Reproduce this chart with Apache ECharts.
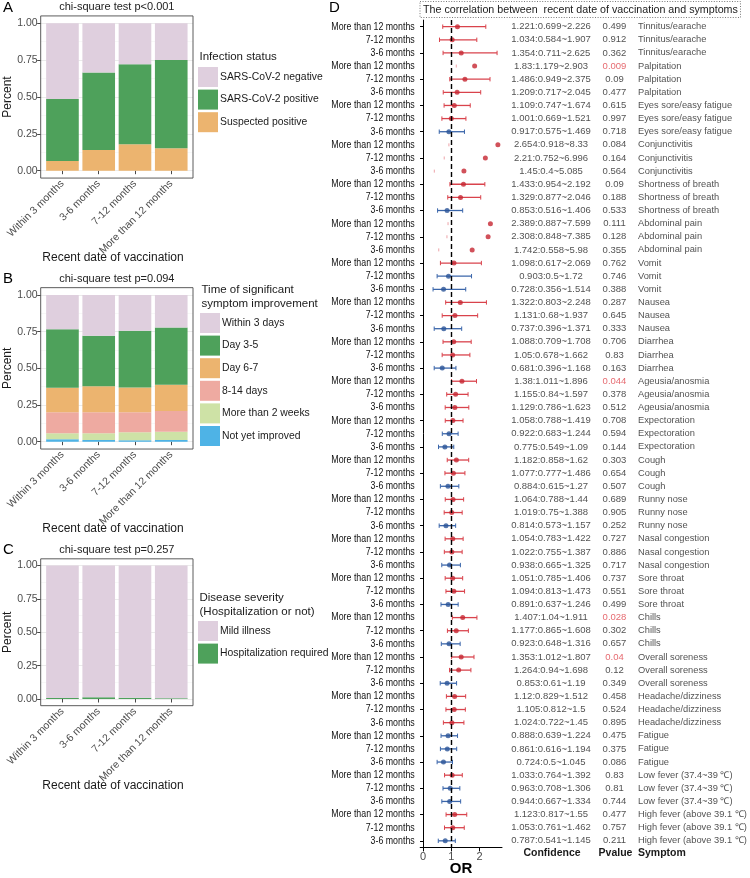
<!DOCTYPE html>
<html><head><meta charset="utf-8">
<script src="https://cdn.jsdelivr.net/npm/echarts@6/dist/echarts.min.js"></script>
<style>html,body{margin:0;padding:0;background:#fff}#c{width:750px;height:878px}</style>
</head><body><div id="c"></div>
<script>
// ---------------- data ----------------
const vaccCats = ['Within 3 months','3-6 months','7-12 months','More than 12 months'];
const pctTicks = [0, 0.25, 0.5, 0.75, 1];
// Panel A: infection status
const infNegative  = [0.514, 0.333, 0.278, 0.249];
const infPositive  = [0.420, 0.527, 0.543, 0.599];
const infSuspected = [0.066, 0.140, 0.179, 0.152];
// Panel B: time of significant symptom improvement
const impWithin3   = [0.233, 0.278, 0.243, 0.222];
const impDay35     = [0.400, 0.344, 0.387, 0.390];
const impDay67     = [0.167, 0.178, 0.170, 0.178];
const imp814       = [0.142, 0.142, 0.135, 0.142];
const impOver2w    = [0.042, 0.046, 0.055, 0.056];
const impNotYet    = [0.016, 0.012, 0.010, 0.012];
// Panel C: disease severity
const sevMild = [0.993, 0.987, 0.990, 0.994];
const sevHosp = [0.007, 0.013, 0.010, 0.006];
// Panel D: forest plot
const groupNames = ['More than 12 months','7-12 months','3-6 months'];
const symptomNames = ['Tinnitus/earache','Palpitation','Eyes sore/easy fatigue','Conjunctivitis','Shortness of breath','Abdominal pain','Vomit','Nausea','Diarrhea','Ageusia/anosmia','Expectoration','Cough','Runny nose','Nasal congestion','Sore throat','Chills','Overall soreness','Headache/dizziness','Fatigue','Low fever (37.4~39 \u2103)','High fever (above 39.1 \u2103)'];
const orValue = [1.221,1.034,1.354, 1.83,1.486,1.209, 1.109,1.001,0.917, 2.654,2.21,1.45, 1.433,1.329,0.853, 2.389,2.308,1.742, 1.098,0.903,0.728, 1.322,1.131,0.737, 1.088,1.05,0.681, 1.38,1.155,1.129, 1.058,0.922,0.775, 1.182,1.077,0.884, 1.064,1.019,0.814, 1.054,1.022,0.938, 1.051,1.094,0.891, 1.407,1.177,0.923, 1.353,1.264,0.853, 1.12,1.105,1.024, 0.888,0.861,0.724, 1.033,0.963,0.944, 1.123,1.053,0.787];
const orLower = [0.699,0.584,0.711, 1.179,0.949,0.717, 0.747,0.669,0.575, 0.918,0.752,0.4, 0.954,0.877,0.516, 0.887,0.848,0.558, 0.617,0.5,0.356, 0.803,0.68,0.396, 0.709,0.678,0.396, 1.011,0.84,0.786, 0.788,0.683,0.549, 0.858,0.777,0.615, 0.788,0.75,0.573, 0.783,0.755,0.665, 0.785,0.813,0.637, 1.04,0.865,0.648, 1.012,0.94,0.61, 0.829,0.812,0.722, 0.639,0.616,0.5, 0.764,0.708,0.667, 0.817,0.761,0.541];
const orUpper = [2.226,1.907,2.625, 2.903,2.375,2.045, 1.674,1.521,1.469, 8.33,6.996,5.085, 2.192,2.046,1.406, 7.599,7.385,5.98, 2.069,1.72,1.514, 2.248,1.937,1.371, 1.708,1.662,1.168, 1.896,1.597,1.623, 1.419,1.244,1.09, 1.62,1.486,1.27, 1.44,1.388,1.157, 1.422,1.387,1.325, 1.406,1.473,1.246, 1.911,1.608,1.316, 1.807,1.698,1.19, 1.512,1.5,1.45, 1.224,1.194,1.045, 1.392,1.306,1.334, 1.55,1.462,1.145];
const orP = [0.499,0.912,0.362, 0.009,0.09,0.477, 0.615,0.997,0.718, 0.084,0.164,0.564, 0.09,0.188,0.533, 0.111,0.128,0.355, 0.762,0.746,0.388, 0.287,0.645,0.333, 0.706,0.83,0.163, 0.044,0.378,0.512, 0.708,0.594,0.144, 0.303,0.654,0.507, 0.689,0.905,0.252, 0.727,0.886,0.717, 0.737,0.551,0.499, 0.028,0.302,0.657, 0.04,0.12,0.349, 0.458,0.524,0.895, 0.475,0.375,0.086, 0.83,0.81,0.744, 0.477,0.757,0.211];
const orTicks = [0, 1, 2];

// ---------------- style ----------------
const FONT = "'Liberation Sans', Arial, Helvetica, sans-serif";
const COL = {lav:'#DFCFDE', green:'#4EA15B', orange:'#ECB46F', pink:'#EEAAA1', lgreen:'#CEE2A6', blue:'#4EB3E6'};
const RED_LINE='#D9434C', RED_DOT='#C52631', BLUE_LINE='#3B66AA', BLUE_DOT='#2A5497';

const grids=[], xAxes=[], yAxes=[], series=[], legends=[], graphics=[];
function addGrid(g){ grids.push(Object.assign({outerBoundsMode:'none', containLabel:false}, g)); return grids.length-1; }

function addText(x, y, text, st, rot){
  const el = {type:'text', x:x, y:y, silent:true, z:100,
    style:Object.assign({text:text, fill:'#1a1a1a', fontSize:11, fontFamily:FONT,
      align:'left', verticalAlign:'middle', textAlign:'left', textVerticalAlign:'middle'}, st||{})};
  if (st && st.align) el.style.textAlign = st.align;
  if (rot) el.rotation = rot;
  graphics.push(el);
}

function barPanel(p){
  const L = 40.7, W = 152.3;
  const u = W/4.2;
  const ptop = p.t1 - 0.05*p.s, ph = 1.1*p.s;
  const gBg = addGrid({left:L, top:p.t1, width:W, height:p.s});
  xAxes.push({gridIndex:gBg, type:'value', min:0, max:1, show:false});
  yAxes.push({gridIndex:gBg, type:'value', min:pctTicks[0], max:pctTicks[pctTicks.length-1], interval:pctTicks[1]-pctTicks[0],
    axisLine:{show:false}, axisTick:{show:true, length:3.5, lineStyle:{color:'#333', width:0.9}},
    axisLabel:{fontFamily:FONT, fontSize:10.5, color:'#4d4d4d', margin:3, formatter:v=>v.toFixed(2)},
    splitLine:{show:true, lineStyle:{color:'#EBEBEB', width:1}},
    minorTick:{show:false, splitNumber:2},
    minorSplitLine:{show:true, lineStyle:{color:'#F3F3F3', width:0.6}}});
  series.push({type:'scatter', name:'bg'+gBg, xAxisIndex:gBg, yAxisIndex:gBg, data:[], silent:true});
  const gB = addGrid({left:L+0.6*u-u/2, top:p.t1, width:4*u, height:p.s});
  xAxes.push({gridIndex:gB, type:'category', data:vaccCats, offset:0.05*p.s,
    axisLine:{show:false}, axisTick:{show:true, alignWithLabel:true, length:3.5, lineStyle:{color:'#333', width:0.9}},
    axisLabel:{interval:0, rotate:45, fontFamily:FONT, fontSize:10.5, color:'#4d4d4d', margin:4}});
  yAxes.push({gridIndex:gB, type:'value', min:0, max:1, show:false});
  p.series.forEach(s=>{
    series.push({type:'bar', name:s.name, stack:'st'+gB, xAxisIndex:gB, yAxisIndex:gB,
      barWidth:0.9*u, data:s.data, itemStyle:{color:s.color}, silent:true});
  });
  graphics.push({type:'rect', silent:true, z:100, shape:{x:L, y:ptop, width:W, height:ph},
    style:{fill:'none', stroke:'#4a4a4a', lineWidth:0.9}});
  addText(3, ptop-8.5, p.letter, {fontSize:15, fill:'#000'});
  addText(L+W/2, ptop-9, p.title, {fontSize:11, align:'center', fill:'#222'});
  addText(8, p.t1+p.s/2, 'Percent', {fontSize:12, align:'center', fill:'#1a1a1a'}, Math.PI/2);
  addText(113, ptop+ph+80, 'Recent date of vaccination', {fontSize:12, align:'center', fill:'#1a1a1a'});
  p.legendTitle.forEach((t,i)=> addText(p.legendLeft+1.5, p.legendTitleY + i*13.5, t, {fontSize:11.5, fill:'#1a1a1a'}));
  legends.push({orient:'vertical', left:p.legendLeft, top:p.legendTop, padding:0,
    itemWidth:20, itemHeight:20, itemGap:2.6, icon:'rect', selectedMode:false,
    data:p.legendOrder, textStyle:{fontFamily:FONT, fontSize:10.4, color:'#1a1a1a', padding:[0,0,0,-3]}});
}

barPanel({t1:23.3, s:147.4, letter:'A', title:'chi-square test p<0.001',
  series:[{name:'Suspected positive', data:infSuspected, color:COL.orange},
          {name:'SARS-CoV-2 positive', data:infPositive, color:COL.green},
          {name:'SARS-CoV-2 negative', data:infNegative, color:COL.lav}],
  legendTitle:['Infection status'], legendTitleY:57, legendLeft:198, legendTop:67,
  legendOrder:['SARS-CoV-2 negative','SARS-CoV-2 positive','Suspected positive']});

barPanel({t1:295, s:146.7, letter:'B', title:'chi-square test p=0.094',
  series:[{name:'Not yet improved', data:impNotYet, color:COL.blue},
          {name:'More than 2 weeks', data:impOver2w, color:COL.lgreen},
          {name:'8-14 days', data:imp814, color:COL.pink},
          {name:'Day 6-7', data:impDay67, color:COL.orange},
          {name:'Day 3-5', data:impDay35, color:COL.green},
          {name:'Within 3 days', data:impWithin3, color:COL.lav}],
  legendTitle:['Time of significant','symptom improvement'], legendTitleY:290, legendLeft:200, legendTop:313,
  legendOrder:['Within 3 days','Day 3-5','Day 6-7','8-14 days','More than 2 weeks','Not yet improved']});

barPanel({t1:565.5, s:133.5, letter:'C', title:'chi-square test p=0.257',
  series:[{name:'Hospitalization required', data:sevHosp, color:COL.green},
          {name:'Mild illness', data:sevMild, color:COL.lav}],
  legendTitle:['Disease severity','(Hospitalization or not)'], legendTitleY:598, legendLeft:198, legendTop:621,
  legendOrder:['Mild illness','Hospitalization required']});

// ---------------- forest plot ----------------
const rowIds = orValue.map((v,i)=>String(i));
const FX_MIN = -0.1, FX_MAX = 2.8;
const gF = addGrid({left:420.2, top:20.1, width:81.8, height:827.3});
xAxes.push({gridIndex:gF, type:'value', min:FX_MIN, max:FX_MAX,
  axisLine:{show:true, lineStyle:{color:'#000', width:1}},
  axisTick:{show:true, customValues:orTicks, length:4, lineStyle:{color:'#000'}},
  axisLabel:{customValues:orTicks, fontFamily:FONT, fontSize:11, color:'#4d4d4d', margin:4},
  splitLine:{show:false}});
yAxes.push({gridIndex:gF, type:'category', inverse:true, data:rowIds,
  axisLine:{show:true, lineStyle:{color:'#000', width:1}},
  axisTick:{show:true, alignWithLabel:true, length:3, lineStyle:{color:'#000'}},
  axisLabel:{show:false}});

// condensed row labels (group names), positioned by the category scale
series.push({type:'custom', name:'rowlabels', xAxisIndex:gF, yAxisIndex:gF, silent:true, clip:false,
  data: rowIds.map((r,i)=>[FX_MIN, i]),
  renderItem:(params, api)=>{
    const c = api.coord([api.value(0), api.value(1)]);
    const txt = groupNames[api.value(1) % groupNames.length];
    return {type:'text', x:c[0]-5.5, y:c[1], scaleX:0.84, scaleY:1,
      style:{x:0, y:0, text:txt, fill:'#111', fontSize:10.5, fontFamily:FONT,
        align:'right', verticalAlign:'middle', textAlign:'right', textVerticalAlign:'middle'}};
  }});

series.push({type:'custom', name:'ci', xAxisIndex:gF, yAxisIndex:gF, silent:true, clip:false,
  data: orValue.map((v,i)=>[orLower[i], orUpper[i], i, v]),
  renderItem:(params, api)=>{
    const lo=api.value(0), hi=api.value(1), row=api.value(2), orv=api.value(3);
    const a = api.coord([lo,row]), b = api.coord([hi,row]);
    const col = orv>1 ? RED_LINE : BLUE_LINE;
    const h = 2.2;
    if (hi > FX_MAX) {
      return {type:'line', shape:{x1:a[0], y1:a[1]-1.5, x2:a[0], y2:a[1]+1.5},
        style:{stroke:'#EDA3A8', lineWidth:1}};
    }
    return {type:'group', children:[
      {type:'line', shape:{x1:a[0], y1:a[1], x2:b[0], y2:b[1]}, style:{stroke:col, lineWidth:1.3}},
      {type:'line', shape:{x1:a[0], y1:a[1]-h, x2:a[0], y2:a[1]+h}, style:{stroke:col, lineWidth:1}},
      {type:'line', shape:{x1:b[0], y1:b[1]-h, x2:b[0], y2:b[1]+h}, style:{stroke:col, lineWidth:1}}
    ]};
  }});
series.push({type:'scatter', name:'or', xAxisIndex:gF, yAxisIndex:gF, silent:true, symbolSize:5, z:3,
  data: orValue.map((v,i)=>({value:[v,i], itemStyle:{color: v>1 ? RED_DOT : BLUE_DOT}})),
  markLine:{silent:true, symbol:['none','none'], z:5, label:{show:false},
    lineStyle:{type:[5,3], color:'#000', width:1.4}, data:[{xAxis:1}]}});

// text columns
const gT = addGrid({left:505, top:20.1, width:245, height:827.3});
xAxes.push({gridIndex:gT, type:'value', min:0, max:245, show:false});
yAxes.push({gridIndex:gT, type:'category', inverse:true, data:rowIds, show:false});
const txtLabel = {show:true, position:[0,0], verticalAlign:'middle', fontFamily:FONT, fontSize:9.5, color:'#1f1f1f'};
series.push({type:'scatter', name:'conf', xAxisIndex:gT, yAxisIndex:gT, silent:true, symbolSize:0,
  data: orValue.map((v,i)=>({value:[46,i], label:{formatter: v+':'+orLower[i]+'~'+orUpper[i]}})),
  label:Object.assign({}, txtLabel, {align:'center'})});
series.push({type:'scatter', name:'pval', xAxisIndex:gT, yAxisIndex:gT, silent:true, symbolSize:0,
  data: orP.map((p,i)=>({value:[109.5,i], label:{formatter:String(p), color: p<0.05 ? '#E0454C' : '#1f1f1f'}})),
  label:Object.assign({}, txtLabel, {align:'center'})});
series.push({type:'scatter', name:'symptom', xAxisIndex:gT, yAxisIndex:gT, silent:true, symbolSize:0,
  data: orValue.map((v,i)=>({value:[133,i], label:{formatter: symptomNames[Math.floor(i/groupNames.length)]}})),
  label:Object.assign({}, txtLabel, {align:'left', fontSize:9.3})});

// headers & title box
addText(329, 8, 'D', {fontSize:15, fill:'#000'});
graphics.push({type:'rect', silent:true, z:100, shape:{x:420, y:1.5, width:320.5, height:16},
  style:{fill:'none', stroke:'#555', lineWidth:0.8, lineDash:[1,1.6]}});
addText(423, 10, 'The correlation between  recent date of vaccination and symptoms', {fontSize:10.7, fill:'#1a1a1a'});
addText(552, 853, 'Confidence', {fontSize:10.5, fontWeight:'bold', align:'center', fill:'#1a1a1a'});
addText(615.5, 853, 'Pvalue', {fontSize:10.5, fontWeight:'bold', align:'center', fill:'#1a1a1a'});
addText(638, 853, 'Symptom', {fontSize:10.5, fontWeight:'bold', fill:'#1a1a1a'});
addText(461, 869, 'OR', {fontSize:15, fontWeight:'bold', align:'center', fill:'#000'});

const chart = echarts.init(document.getElementById('c'), null, {renderer:'canvas'});
chart.setOption({
  backgroundColor:'#fff', animation:false,
  grid:grids, xAxis:xAxes, yAxis:yAxes, series:series, legend:legends,
  graphic:{elements:graphics}
});
</script></body></html>
